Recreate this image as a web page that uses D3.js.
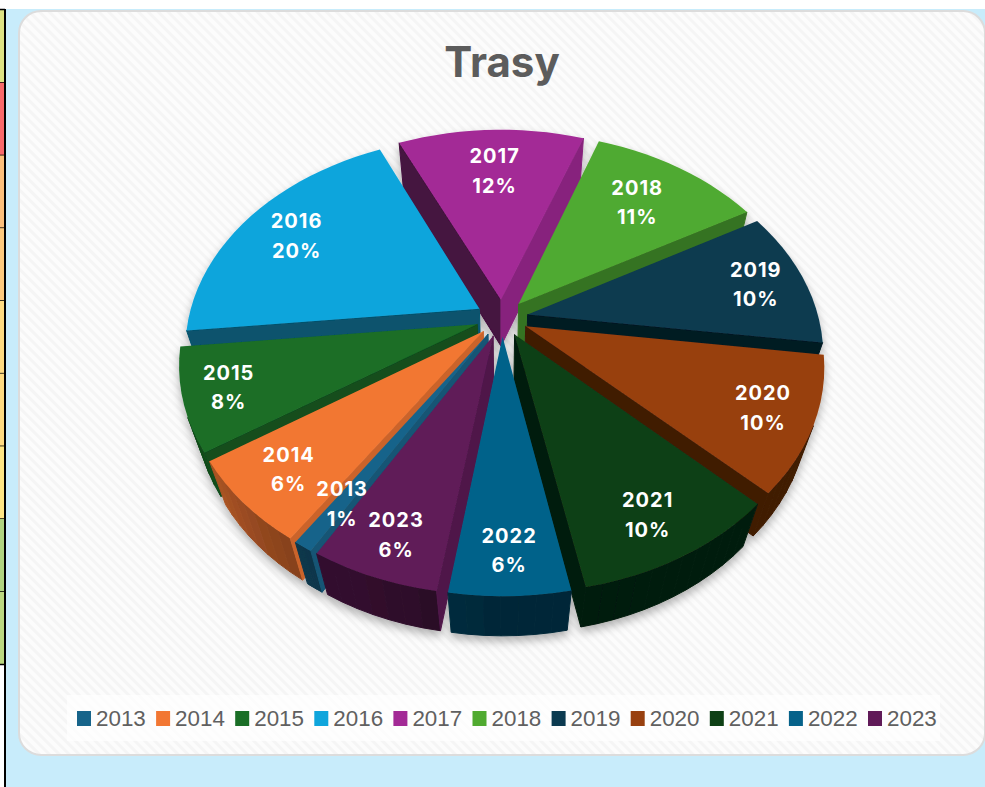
<!DOCTYPE html>
<html><head><meta charset="utf-8">
<script src="https://cdnjs.cloudflare.com/ajax/libs/d3/7.8.5/d3.min.js"></script>
<style>html,body{margin:0;padding:0;background:#fff;overflow:hidden}svg{display:block}</style>
</head><body><svg id="c" width="985" height="787"></svg>
<script>
const chartTitle = "Trasy";
const years = ["2013","2014","2015","2016","2017","2018","2019","2020","2021","2022","2023"];
const shares = [0.9,6.4,7.7,19.9,12.2,11.3,10.4,10.2,9.6,5.5,5.9];
const colors = ["#17648a","#f27733","#1a6e26","#0fa5dc","#a32a96","#50aa30","#0b3a50","#98400f","#0e4015","#06628a","#601a58"];
const tableRowColors = ["#dde283","#f8696b","#fcbf7b","#fdc97d","#ffdb81","#ffdb81","#ffe684","#b1d580","#bbd880"];

const W = 985, H = 787;
const svg = d3.select("#c");
const defs = svg.append("defs");

// page furniture
svg.append("rect").attr("x",6).attr("y",9).attr("width",W).attr("height",H).attr("fill","#c8ecfb");
const rowY = d3.scaleLinear().domain([0,tableRowColors.length]).range([10,664.5]);
tableRowColors.forEach((c,i)=>{
  svg.append("rect").attr("x",0).attr("y",rowY(i)).attr("width",4).attr("height",rowY(i+1)-rowY(i)).attr("fill",c);
  svg.append("line").attr("x1",0).attr("x2",5).attr("y1",rowY(i+1)).attr("y2",rowY(i+1)).attr("stroke","#000").attr("stroke-width",1.5);
});
svg.append("line").attr("x1",0).attr("x2",5).attr("y1",9.5).attr("y2",9.5).attr("stroke","#000").attr("stroke-width",1.5);
svg.append("line").attr("x1",5).attr("x2",5).attr("y1",9).attr("y2",H).attr("stroke","#000").attr("stroke-width",2);

// card
const pat = defs.append("pattern").attr("id","st").attr("patternUnits","userSpaceOnUse")
  .attr("width",7).attr("height",7).attr("patternTransform","rotate(45)");
pat.append("rect").attr("width",7).attr("height",7).attr("fill","#fcfcfc");
pat.append("rect").attr("width",7).attr("height",3).attr("fill","#f5f5f5");
svg.append("rect").attr("x",19).attr("y",11).attr("width",966).attr("height",744).attr("rx",22)
  .attr("fill","url(#st)").attr("stroke","#dcdcdc").attr("stroke-width",2);

svg.append("text").text(chartTitle).attr("x",502).attr("y",77).attr("text-anchor","middle")
  .attr("font-family","Inter, 'Liberation Sans', sans-serif").attr("font-weight",700).attr("font-size",42).attr("fill","#5c5c5c");

// projection: u right, v toward viewer, h = down through the pie
const cx = 502, cy = 318, Bx = 291, A = 206, p = 0.177, cH = 48.6, qH = 0.0523, explode = 0.09;
function proj(u,v,h){
  const w = 1 - p*v + qH*h;
  return [cx + Bx*u/w, cy + (A*v + cH*h)/w];
}
const pie = d3.pie().sort(null).value(d=>d).startAngle(210*Math.PI/180).endAngle(570*Math.PI/180);
const arcs = pie(shares);
const line = d3.line();
const cutShade = d3.scaleLinear().domain([90,125,150,180,220,260]).range([.82,.84,.68,.45,.42,.42]).clamp(true);
const outerShade = d3.scaleLinear().domain([90,130,150,180,200,213,235,260]).range([.42,.42,.42,.4,.5,.55,.7,.6]).clamp(true);
const deg = a => ((a*180/Math.PI)%360+360)%360;
const shade = (c,k)=>{const r=d3.rgb(c);return d3.rgb(r.r*k,r.g*k,r.b*k).formatHex();};
const area = pts => d3.polygonArea(pts);

const slices = arcs.map((a,i)=>{
  const mid=(a.startAngle+a.endAngle)/2;
  return {i,a,mid,ox:Math.sin(mid)*explode,oy:-Math.cos(mid)*explode};
}).sort((s,t)=>(-Math.cos(s.mid))-(-Math.cos(t.mid)));

const root = svg.append("g");
defs.append("filter").attr("id","sh").attr("x","-10%").attr("y","-10%").attr("width","120%").attr("height","125%")
  .append("feDropShadow").attr("dx",0).attr("dy",5).attr("stdDeviation",5).attr("flood-color","#000").attr("flood-opacity",.3);
root.attr("filter","url(#sh)");

slices.forEach(s=>{
  const g = root.append("g"), col = colors[s.i];
  const rim = (t,h)=>proj(s.ox+Math.sin(t),s.oy-Math.cos(t),h);
  const tip = h=>proj(s.ox,s.oy,h);
  const N = Math.max(6,Math.round((s.a.endAngle-s.a.startAngle)/(Math.PI/60)));
  const ts = d3.range(N+1).map(k=>s.a.startAngle+(s.a.endAngle-s.a.startAngle)*k/N);
  const quad = (a,b,c,k)=>{
    g.append("path").attr("d",line([a,b,c[0],c[1]])+"Z").attr("fill",shade(col,k)).attr("stroke",shade(col,k)).attr("stroke-width",1);
  };
  // outer wall, segment by segment
  for(let k=0;k<N;k++){
    const a=rim(ts[k],0), b=rim(ts[k+1],0), c=rim(ts[k+1],1), d=rim(ts[k],1);
    if(area([a,b,c,d])>0) quad(a,b,[c,d],outerShade(deg((ts[k]+ts[k+1])/2)));
  }
  // cut walls (start edge then end edge), kept only when they face the viewer
  [[s.a.startAngle,-90,true],[s.a.endAngle,90,false]].forEach(([t,off,isStart])=>{
    const a=tip(0), b=rim(t,0), c=rim(t,1), d=tip(1);
    const sgn = area([a,b,c,d]);
    const faces = isStart ? sgn>0 : sgn<0;
    if(faces) quad(a,b,[c,d],cutShade(deg(t+off*Math.PI/180)));
  });
  // top
  const top=[tip(0),...ts.map(t=>rim(t,0))];
  g.append("path").attr("d",line(top)+"Z").attr("fill",col);
});

// data labels: fractional radius on the slice's mid-angle, then a small hand-read nudge
const labelR = 0.8;
const labelNudgeX = [-3,-8,-16,3,2,-13,7,11,3,1,-5];
const labelNudgeY = [5,4,3,2,10.5,9,0,3,9,14,13];
slices.forEach(s=>{
  const [x0,y0]=proj(s.ox+Math.sin(s.mid)*labelR,s.oy-Math.cos(s.mid)*labelR,0);
  const x=x0+labelNudgeX[s.i], y=y0+labelNudgeY[s.i];
  const t=svg.append("text").attr("text-anchor","middle").attr("font-family","Inter, 'Liberation Sans', sans-serif")
    .attr("font-weight",700).attr("font-size",20).attr("letter-spacing",1).attr("fill","#fff");
  t.append("tspan").attr("x",x).attr("y",y-7).text(years[s.i]);
  t.append("tspan").attr("x",x).attr("y",y+22.5).text(Math.round(shares[s.i])+"%");
});

// legend
svg.append("rect").attr("x",67).attr("y",695).attr("width",873).attr("height",46).attr("fill","#fff").attr("opacity",.7);
const lx = d3.scaleLinear().domain([0,years.length-1]).range([77,868]);
years.forEach((y,i)=>{
  svg.append("rect").attr("x",lx(i)).attr("y",711).attr("width",14).attr("height",15).attr("fill",colors[i]);
  svg.append("text").text(y).attr("x",lx(i)+19).attr("y",725.5).attr("font-family","'Liberation Sans', sans-serif")
    .attr("font-size",22.4).attr("fill","#606060");
});
</script></body></html>
